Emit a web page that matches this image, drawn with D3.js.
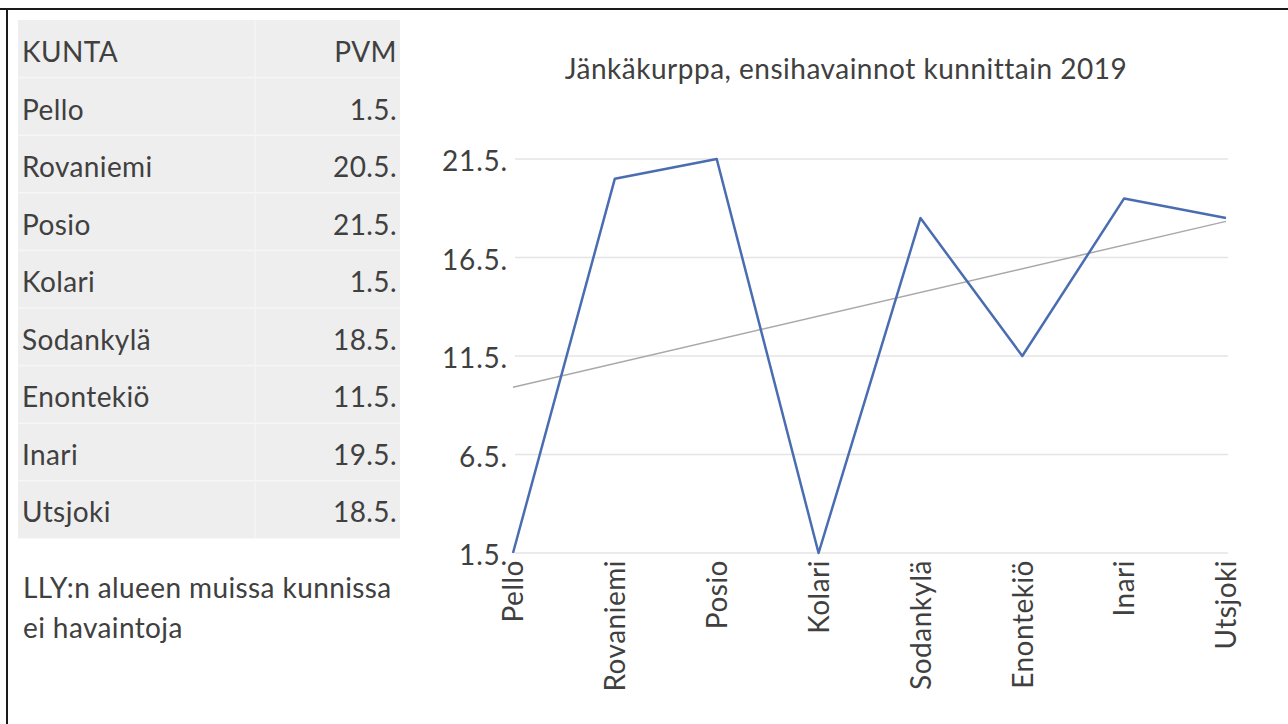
<!DOCTYPE html>
<html>
<head>
<meta charset="utf-8">
<script src="https://cdn.jsdelivr.net/npm/d3@7/dist/d3.min.js"></script>
<style>
  html, body { margin: 0; padding: 0; background: #fff; }
  svg { display: block; }
  text { font-family: Lato, "Open Sans", sans-serif; fill: #404040; }
</style>
</head>
<body>
<svg id="chart" width="1288" height="724"></svg>
<script>
// First observations of the jack snipe per municipality, 2019 (day of May)
const municipalities = ["Pello", "Rovaniemi", "Posio", "Kolari", "Sodankylä", "Enontekiö", "Inari", "Utsjoki"];
const firstDayOfMay = [1, 20, 21, 1, 18, 11, 19, 18];
const yTicks = [1, 6, 11, 16, 21];
const month = 5;

const titleText = "Jänkäkurppa, ensihavainnot kunnittain 2019";
const tableHeader = ["KUNTA", "PVM"];
const footnoteLines = ["LLY:n alueen muissa kunnissa", "ei havaintoja"];

const fmtDate = d => `${d}.${month}.`;
const FONT = "Lato, 'Open Sans', sans-serif";

const svg = d3.select("#chart");

// Frame lines (top and left)
svg.append("line").attr("x1", 0).attr("x2", 1288).attr("y1", 9).attr("y2", 9)
  .attr("stroke", "#1a1a1a").attr("stroke-width", 2);
svg.append("line").attr("x1", 7).attr("x2", 7).attr("y1", 8).attr("y2", 724)
  .attr("stroke", "#1a1a1a").attr("stroke-width", 2);

// ---------- Table ----------
const table = svg.append("g");
const tX0 = 18, tX1 = 400, tY0 = 20, rowH = 57.6;
const nRows = municipalities.length + 1;
table.append("rect").attr("x", tX0).attr("y", tY0)
  .attr("width", tX1 - tX0).attr("height", rowH * nRows)
  .attr("fill", "#eeeeee");
// row separators
table.selectAll("line.row").data(d3.range(1, nRows)).join("line")
  .attr("x1", tX0).attr("x2", tX1)
  .attr("y1", i => tY0 + i * rowH).attr("y2", i => tY0 + i * rowH)
  .attr("stroke", "#f6f6f6").attr("stroke-width", 1.5);
// column separator
table.append("line").attr("x1", 255).attr("x2", 255)
  .attr("y1", tY0).attr("y2", tY0 + rowH * nRows)
  .attr("stroke", "#f4f4f4").attr("stroke-width", 1.5);

const rows = [tableHeader].concat(municipalities.map((m, i) => [m, fmtDate(firstDayOfMay[i])]));
table.selectAll("text.name").data(rows).join("text")
  .attr("x", 22).attr("y", (d, i) => 62 + i * 57.5)
  .attr("font-size", 28).attr("letter-spacing", 0.4).text(d => d[0]);
table.selectAll("text.val").data(rows).join("text")
  .attr("x", 397).attr("y", (d, i) => 62 + i * 57.5)
  .attr("text-anchor", "end")
  .attr("font-size", 28).attr("letter-spacing", 0.4).text(d => d[1]);

svg.selectAll("text.foot").data(footnoteLines).join("text")
  .attr("x", 23).attr("y", (d, i) => 598 + i * 40)
  .attr("font-size", 28).attr("letter-spacing", 0.4).text(d => d);

// ---------- Line chart ----------
const x = d3.scalePoint().domain(municipalities).range([513, 1226]);
const y = d3.scaleLinear().domain([1, 21]).range([553, 159]);

svg.append("text").attr("x", 846).attr("y", 79)
  .attr("text-anchor", "middle").attr("font-size", 28).attr("letter-spacing", 0.5)
  .text(titleText);

// gridlines
svg.append("g").selectAll("line").data(yTicks).join("line")
  .attr("x1", 515).attr("x2", 1228)
  .attr("y1", d => y(d)).attr("y2", d => y(d))
  .attr("stroke", "#e4e4e4").attr("stroke-width", 1.5);

// y axis labels
const yAxis = svg.append("g").attr("transform", "translate(515,0)")
  .call(d3.axisLeft(y).tickValues(yTicks).tickFormat(fmtDate).tickSize(0).tickPadding(7));
yAxis.select(".domain").remove();
yAxis.selectAll("text").attr("font-size", 28).attr("fill", "#404040")
  .attr("letter-spacing", 0.8)
  .attr("font-family", FONT).attr("dy", "0.42em");

// x axis labels (rotated)
const xAxis = svg.append("g").attr("transform", "translate(0,553)")
  .call(d3.axisBottom(x).tickSize(0).tickPadding(0));
xAxis.select(".domain").remove();
xAxis.selectAll("text")
  .attr("font-size", 28).attr("fill", "#404040")
  .attr("letter-spacing", 0.5)
  .attr("font-family", FONT)
  .attr("text-anchor", "end")
  .attr("transform", "rotate(-90)")
  .attr("x", -7).attr("y", 0).attr("dy", "0.35em");

// linear trend line (least squares over category index)
const idx = municipalities.map((_, i) => i + 1);
const mx = d3.mean(idx), my = d3.mean(firstDayOfMay);
const slope = d3.sum(idx, (v, i) => (v - mx) * (firstDayOfMay[i] - my)) / d3.sum(idx, v => (v - mx) ** 2);
const icpt = my - slope * mx;
const trend = [[municipalities[0], icpt + slope * 1], [municipalities[municipalities.length - 1], icpt + slope * municipalities.length]];
svg.append("path")
  .attr("d", d3.line().x(d => x(d[0])).y(d => y(d[1]))(trend))
  .attr("fill", "none").attr("stroke", "#a9a9a9").attr("stroke-width", 1.5);

// data line
svg.append("path")
  .datum(municipalities.map((m, i) => [m, firstDayOfMay[i]]))
  .attr("d", d3.line().x(d => x(d[0])).y(d => y(d[1])))
  .attr("fill", "none").attr("stroke", "#4a6db2").attr("stroke-width", 2.5)
  .attr("stroke-linejoin", "round");
</script>
</body>
</html>
